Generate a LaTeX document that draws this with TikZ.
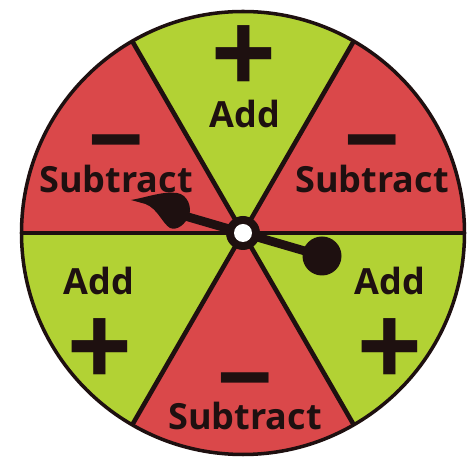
\documentclass[tikz,border=0pt]{standalone}
\usepackage{fontspec}
\setmainfont{Open Sans}
\newfontfamily\signfont{Liberation Sans}
\usepackage{tikz}
\definecolor{spinred}{RGB}{218,72,74}
\definecolor{spingreen}{RGB}{178,210,52}
\definecolor{inkdark}{RGB}{30,16,16}

\begin{document}
\begin{tikzpicture}[
  word/.style={font=\bfseries\fontsize{20.5}{22}\selectfont, text=inkdark, anchor=base, inner sep=0pt},
  sign/.style={font=\signfont\bfseries\fontsize{#1}{#1}\selectfont, text=inkdark, inner sep=0pt},
  rim/.style={line width=2pt, draw=inkdark},
  divider/.style={line width=2.6pt, draw=inkdark},
]
\useasboundingbox (-4.86,-4.5) rectangle (4.58,4.66);
\def\R{4.43}
% wheel
\foreach \a/\c in {0/spinred, 60/spingreen, 120/spinred, 180/spingreen, 240/spinred, 300/spingreen}
  \fill[\c] (0,0) -- (\a:\R) arc[start angle=\a, end angle=\a+60, radius=\R] -- cycle;
\foreach \a in {0,60,...,300}
  \draw[divider] (0,0) -- (\a:\R);
\draw[rim] (0,0) circle[radius=\R];
% labels
\node[sign=63] (plusT) at (0.02,3.5) {+};
\node[word] (addT) at (0.04,2.1) {Add};
\node[sign=54] (minusUL) at (-2.54,1.6) {−};
\node[word] (subUL) at (-2.54,0.8) {Subtract};
\node[sign=54] (minusUR) at (2.58,1.6) {−};
\node[word] (subUR) at (2.58,0.8) {Subtract};
\node[word] (addL) at (-2.88,-1.24) {Add};
\node[sign=63] (plusL) at (-2.86,-2.36) {+};
\node[word] (addR) at (2.94,-1.24) {Add};
\node[sign=63] (plusR) at (2.94,-2.36) {+};
\node[sign=54] (minusB) at (0.04,-3.16) {−};
\node[word] (subB) at (0.04,-3.94) {Subtract};
% spinner
\coordinate (hub) at (0,0);
\coordinate (ball) at (1.58,-0.46);
\coordinate (bulb) at (-1.3,0.38);
\coordinate (tip) at (-2.24,0.66);
\draw[line width=5pt, inkdark] (bulb) -- (ball);
\fill[inkdark] (ball) circle[radius=0.39];
\fill[inkdark] (tip) .. controls (-1.9,0.72) and (-1.6,0.84) .. (-1.32,0.8)
  .. controls (-1.1,0.77) and (-1.02,0.5) .. (-1.08,0.36)
  .. controls (-1.14,0.18) and (-1.32,0.04) .. (-1.46,0.1)
  .. controls (-1.62,0.2) and (-1.7,0.48) .. (-1.95,0.58)
  .. controls (-2.08,0.63) .. (tip) -- cycle;
\fill[inkdark] (hub) circle[radius=0.34];
\fill[white] (hub) circle[radius=0.18];
\end{tikzpicture}
\end{document}
